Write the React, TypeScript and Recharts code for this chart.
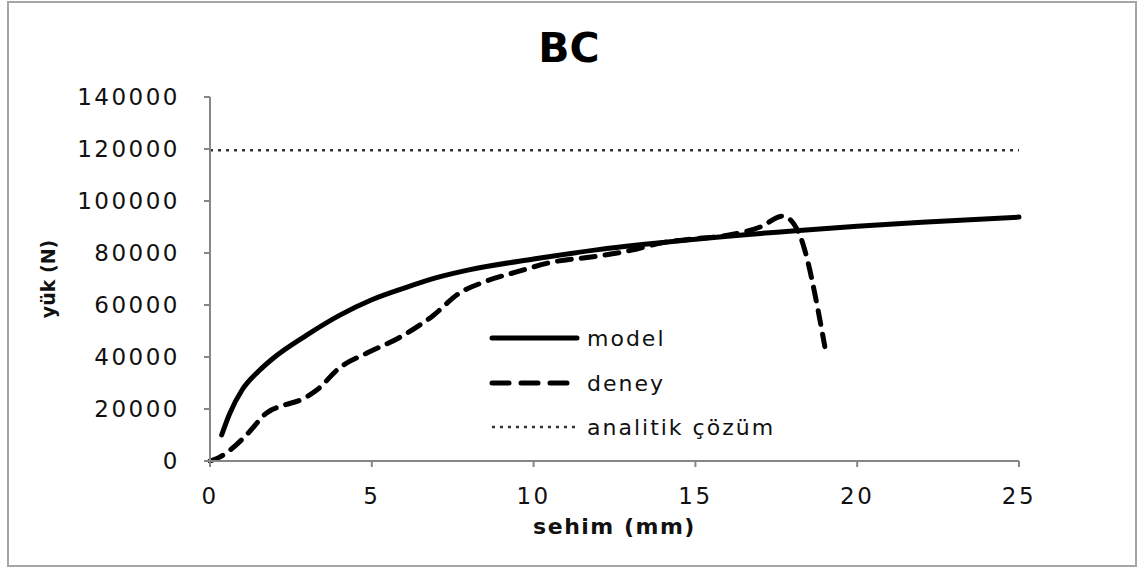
import React from 'react';
import { LineChart, Line, XAxis, YAxis } from 'recharts';

const modelX = [0.36, 0.6, 1.0, 1.5, 2.0, 3.0, 4.0, 5.0, 6.0, 7.0, 8.0, 10.0, 12.0, 15.0, 18.0, 20.0, 22.0, 25.0];
const modelY = [10000, 18000, 27500, 34500, 40000, 48500, 56000, 62000, 66500, 70500, 73500, 77700, 81300, 85300, 88500, 90300, 91800, 93800];

const deneyX = [0, 0.3, 0.7, 1.2, 1.75, 2.3, 2.8, 3.3, 4.0, 4.85, 5.9, 6.9, 7.7, 8.5, 9.5, 10.5, 12.0, 13.0, 14.0, 15.0, 16.0, 17.0, 17.7, 18.15, 19.0];
const deneyY = [0, 1500, 5000, 11000, 18500, 21500, 23500, 27300, 35800, 41500, 47800, 56000, 64500, 69000, 72800, 76300, 78800, 81000, 84000, 85500, 86800, 90000, 94200, 89000, 44000];

const analitikX = [0, 25];
const analitikY = [119500, 119500];

const xTicks = [0, 5, 10, 15, 20, 25];
const yTicks = [0, 20000, 40000, 60000, 80000, 100000, 120000, 140000];

const seriesNames = ['model', 'deney', 'analitik çözüm'];

const modelData = modelX.map((x, i) => ({ x, y: modelY[i] }));
const deneyData = deneyX.map((x, i) => ({ x, y: deneyY[i] }));
const analitikData = analitikX.map((x, i) => ({ x, y: analitikY[i] }));

const FONT = "'DejaVu Sans', sans-serif";
const AXIS = '#868686';

const legendStyles = [
  { dash: undefined, width: 5, cap: 'round' as const },
  { dash: '17 12', width: 5, cap: 'round' as const },
  { dash: '3 5', width: 2.5, cap: 'butt' as const },
];

const LegendBox = () => (
  <div style={{ position: 'absolute', left: 489, top: 315, width: 320, fontFamily: FONT }}>
    {seriesNames.map((name, i) => (
      <div key={name} style={{ display: 'flex', alignItems: 'center', height: i === 0 ? 46 : 44 }}>
        <svg width={92} height={10} style={{ display: 'block' }}>
          <line
            x1={3}
            y1={5}
            x2={88}
            y2={5}
            stroke={i === 2 ? '#333' : '#000'}
            strokeWidth={legendStyles[i].width}
            strokeDasharray={legendStyles[i].dash}
            strokeLinecap={legendStyles[i].cap}
          />
        </svg>
        <span style={{ fontSize: 22, letterSpacing: 2, color: '#111', marginLeft: 6 }}>{name}</span>
      </div>
    ))}
  </div>
);

export default function App() {
  return (
    <div style={{ position: 'absolute', left: 0, top: 0, width: 1144, height: 569, background: '#fff' }}>
      <div
        style={{
          position: 'absolute',
          left: 7,
          top: 1,
          width: 1130,
          height: 566,
          border: '2px solid #a6a6a6',
          boxSizing: 'border-box',
        }}
      />
      <div
        style={{
          position: 'absolute',
          left: -3,
          top: 28,
          width: 1144,
          textAlign: 'center',
          fontFamily: FONT,
          fontWeight: 'bold',
          fontSize: 41,
          lineHeight: '41px',
          color: '#000',
        }}
      >
        BC
      </div>
      <div style={{ position: 'absolute', left: 0, top: 0 }}>
        <LineChart
          width={1144}
          height={569}
          margin={{ top: 97, right: 125, bottom: 48, left: 20 }}
          style={{ fontFamily: FONT }}
        >
          <XAxis
            type="number"
            dataKey="x"
            domain={[0, 25]}
            ticks={xTicks}
            interval={0}
            height={60}
            axisLine={{ stroke: AXIS, strokeWidth: 2 }}
            tickLine={{ stroke: AXIS, strokeWidth: 2 }}
            tickSize={6}
            tickMargin={21}
            tick={{ fill: '#111', fontSize: 23, letterSpacing: 2.5, fontFamily: FONT }}
            label={{
              value: 'sehim (mm)',
              position: 'bottom',
              offset: -3,
              style: { fontWeight: 'bold', fontSize: 22, letterSpacing: 1.5, fill: '#111', fontFamily: FONT },
            }}
          />
          <YAxis
            type="number"
            dataKey="y"
            domain={[0, 140000]}
            ticks={yTicks}
            interval={0}
            width={190}
            axisLine={{ stroke: AXIS, strokeWidth: 2 }}
            tickLine={{ stroke: AXIS, strokeWidth: 2 }}
            tickSize={6}
            tickMargin={24}
            tick={{ fill: '#111', fontSize: 23, letterSpacing: 2.5, fontFamily: FONT }}
            label={{
              value: 'yük (N)',
              angle: -90,
              position: 'insideLeft',
              offset: 28,
              style: { textAnchor: 'middle', fontWeight: 'bold', fontSize: 19, fill: '#111', fontFamily: FONT },
            }}
          />
          <Line
            name={seriesNames[2]}
            data={analitikData}
            dataKey="y"
            type="linear"
            stroke="#333"
            strokeWidth={2.5}
            strokeDasharray="3 5"
            dot={false}
            isAnimationActive={false}
          />
          <Line
            name={seriesNames[1]}
            data={deneyData}
            dataKey="y"
            type="monotone"
            stroke="#000"
            strokeWidth={5}
            strokeDasharray="14 10"
            strokeLinecap="round"
            dot={false}
            isAnimationActive={false}
          />
          <Line
            name={seriesNames[0]}
            data={modelData}
            dataKey="y"
            type="monotone"
            stroke="#000"
            strokeWidth={5}
            strokeLinecap="round"
            dot={false}
            isAnimationActive={false}
          />
        </LineChart>
      </div>
      <LegendBox />
    </div>
  );
}
